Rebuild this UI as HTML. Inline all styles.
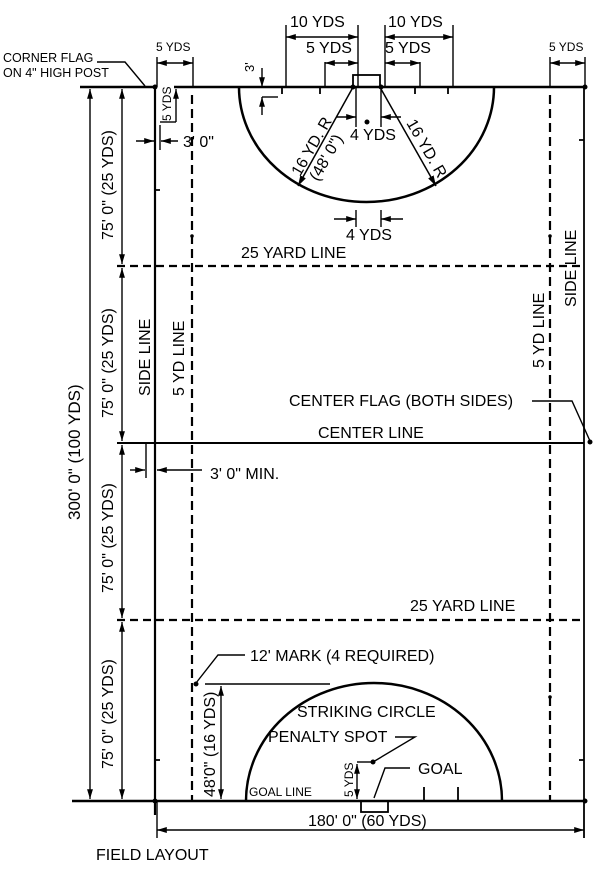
<!DOCTYPE html>
<html><head><style>html,body{margin:0;padding:0;background:#fff}svg{display:block}</style></head><body>
<svg width="600" height="870" viewBox="0 0 600 870" xmlns="http://www.w3.org/2000/svg" font-family="Liberation Sans, sans-serif" fill="#000">
<defs>
<marker id="a" viewBox="0 0 10 10" refX="10" refY="5" markerWidth="7" markerHeight="7" orient="auto-start-reverse"><path d="M0,2 L10,5 L0,8z"/></marker>
</defs>
<g stroke="#000" fill="none">
<line x1="80" y1="87" x2="155" y2="87" stroke-width="2.5"/>
<line x1="174" y1="87" x2="585" y2="87" stroke-width="2.5"/>
<line x1="72" y1="801" x2="585" y2="801" stroke-width="2.5"/>
<line x1="155" y1="87" x2="155" y2="815" stroke-width="2.2"/>
<line x1="584" y1="87" x2="584" y2="838" stroke-width="1.8"/>
<line x1="117" y1="443" x2="584" y2="443" stroke-width="2"/>
<line x1="117" y1="266" x2="584" y2="266" stroke-width="2.2" stroke-dasharray="8,5"/>
<line x1="117" y1="620" x2="584" y2="620" stroke-width="2.2" stroke-dasharray="8,5"/>
<line x1="192" y1="95" x2="192" y2="801" stroke-width="2.2" stroke-dasharray="9,5"/>
<line x1="550" y1="95" x2="550" y2="801" stroke-width="2.2" stroke-dasharray="9,5"/>
<path d="M239,87 A127.5,115 0 0 0 494,87" stroke-width="2.5"/>
<path d="M246,801 A128,118 0 0 1 502,801" stroke-width="2.5"/>
<rect x="353" y="75" width="27" height="12" stroke-width="1.8"/>
<rect x="361" y="801" width="27" height="11" stroke-width="1.8"/>
<path d="M282,87v7 M320,87v7 M415,87v7 M448,87v7 M424,787v14 M458,787v14 M155,190h5 M584,140h-5 M155,760h5 M584,760h-5" stroke-width="1.8"/>
<line x1="352" y1="89" x2="298" y2="186" stroke-width="1.5" marker-end="url(#a)"/>
<line x1="381" y1="89" x2="436" y2="186" stroke-width="1.5" marker-end="url(#a)"/>
<path d="M356,87v40 M381,87v40 M356,210v17 M381,210v17" stroke-width="1.4"/>
<line x1="336" y1="117" x2="356" y2="117" stroke-width="1.4" marker-end="url(#a)"/>
<line x1="401" y1="117" x2="381" y2="117" stroke-width="1.4" marker-end="url(#a)"/>
<line x1="334" y1="219" x2="356" y2="219" stroke-width="1.4" marker-end="url(#a)"/>
<line x1="403" y1="219" x2="381" y2="219" stroke-width="1.4" marker-end="url(#a)"/>
<path d="M286,87v-62 M358,87v-62 M385,87v-62 M453,87v-62 M325,87v-25 M420,87v-25 M157,87v-30 M193,87v-30 M550,87v-30 M585,87v-30" stroke-width="1.4"/>
<line x1="286" y1="37" x2="358" y2="37" stroke-width="1.4" marker-start="url(#a)" marker-end="url(#a)"/>
<line x1="385" y1="37" x2="453" y2="37" stroke-width="1.4" marker-start="url(#a)" marker-end="url(#a)"/>
<line x1="325" y1="63" x2="358" y2="63" stroke-width="1.4" marker-start="url(#a)" marker-end="url(#a)"/>
<line x1="385" y1="63" x2="420" y2="63" stroke-width="1.4" marker-start="url(#a)" marker-end="url(#a)"/>
<line x1="157" y1="63" x2="193" y2="63" stroke-width="1.4" marker-start="url(#a)" marker-end="url(#a)"/>
<line x1="550" y1="63" x2="585" y2="63" stroke-width="1.4" marker-start="url(#a)" marker-end="url(#a)"/>
<line x1="262" y1="68" x2="262" y2="87" stroke-width="1.4" marker-end="url(#a)"/>
<line x1="262" y1="115" x2="262" y2="97" stroke-width="1.4" marker-end="url(#a)"/>
<line x1="262" y1="97" x2="278" y2="97" stroke-width="1.4"/>
<line x1="176" y1="122" x2="176" y2="89" stroke-width="1.4" marker-end="url(#a)"/>
<line x1="160" y1="122" x2="176" y2="122" stroke-width="1.4"/>
<line x1="160" y1="125" x2="160" y2="150" stroke-width="1.4"/>
<line x1="136" y1="141" x2="154" y2="141" stroke-width="1.4" marker-end="url(#a)"/>
<line x1="178" y1="141" x2="161" y2="141" stroke-width="1.4" marker-end="url(#a)"/>
<path d="M97,62h28l20,24" stroke-width="1.4"/>
<line x1="90" y1="445" x2="90" y2="89" stroke-width="1.4" marker-end="url(#a)"/>
<line x1="90" y1="445" x2="90" y2="799" stroke-width="1.4" marker-end="url(#a)"/>
<line x1="122" y1="176" x2="122" y2="89" stroke-width="1.4" marker-end="url(#a)"/>
<line x1="122" y1="176" x2="122" y2="264" stroke-width="1.4" marker-end="url(#a)"/>
<line x1="122" y1="355" x2="122" y2="268" stroke-width="1.4" marker-end="url(#a)"/>
<line x1="122" y1="355" x2="122" y2="441" stroke-width="1.4" marker-end="url(#a)"/>
<line x1="122" y1="530" x2="122" y2="445" stroke-width="1.4" marker-end="url(#a)"/>
<line x1="122" y1="530" x2="122" y2="618" stroke-width="1.4" marker-end="url(#a)"/>
<line x1="122" y1="710" x2="122" y2="622" stroke-width="1.4" marker-end="url(#a)"/>
<line x1="122" y1="710" x2="122" y2="799" stroke-width="1.4" marker-end="url(#a)"/>
<line x1="146" y1="443" x2="146" y2="478" stroke-width="1.4"/>
<line x1="130" y1="470" x2="145" y2="470" stroke-width="1.4" marker-end="url(#a)"/>
<line x1="202" y1="470" x2="157" y2="470" stroke-width="1.4" marker-end="url(#a)"/>
<path d="M532,401h40l18,40" stroke-width="1.4"/>
<path d="M245,655h-27l-22,28" stroke-width="1.4"/>
<line x1="205" y1="684" x2="330" y2="684" stroke-width="1.4"/>
<line x1="221" y1="742" x2="221" y2="686" stroke-width="1.4" marker-end="url(#a)"/>
<line x1="221" y1="742" x2="221" y2="799" stroke-width="1.4" marker-end="url(#a)"/>
<line x1="357" y1="762" x2="372" y2="762" stroke-width="1.4"/>
<line x1="357" y1="780" x2="357" y2="764" stroke-width="1.4" marker-end="url(#a)"/>
<line x1="357" y1="780" x2="357" y2="799" stroke-width="1.4" marker-end="url(#a)"/>
<path d="M395,737h20l-42,25" stroke-width="1.4"/>
<path d="M410,768h-25l-11,30" stroke-width="1.4"/>
<line x1="157" y1="801" x2="157" y2="838" stroke-width="1.4"/>
<line x1="157" y1="830" x2="584" y2="830" stroke-width="1.4" marker-start="url(#a)" marker-end="url(#a)"/>
</g>
<g>
<circle cx="155" cy="87" r="2.5"/><circle cx="585" cy="87" r="2.5"/><circle cx="155" cy="801" r="2.5"/><circle cx="585" cy="801" r="2.5"/>
<circle cx="353" cy="87" r="2.5"/><circle cx="381" cy="87" r="2.5"/><circle cx="367" cy="122" r="2.5"/>
<circle cx="590" cy="442" r="2.5"/><circle cx="196" cy="684" r="2.5"/><circle cx="373" cy="762" r="2.5"/>
<circle cx="192" cy="236" r="1.8"/><circle cx="550" cy="236" r="1.8"/><circle cx="550" cy="697" r="1.8"/>
</g>
<g font-size="16">
<text x="290" y="27">10 YDS</text><text x="388" y="27">10 YDS</text>
<text x="306" y="53">5 YDS</text><text x="385" y="53">5 YDS</text>
<text x="156" y="51" font-size="12">5 YDS</text><text x="549" y="51" font-size="12">5 YDS</text>
<text x="3" y="62" font-size="12.5">CORNER FLAG</text><text x="3" y="77" font-size="12.5">ON 4" HIGH POST</text>
<text x="183" y="147">3' 0"</text>
<text x="350" y="140">4 YDS</text>
<text x="346" y="240">4 YDS</text>
<text x="241" y="258">25 YARD LINE</text>
<text x="318" y="438">CENTER LINE</text>
<text x="289" y="406">CENTER FLAG (BOTH SIDES)</text>
<text x="210" y="479">3' 0" MIN.</text>
<text x="410" y="611">25 YARD LINE</text>
<text x="250" y="661">12'  MARK (4 REQUIRED)</text>
<text x="297" y="717">STRIKING CIRCLE</text>
<text x="268" y="742">PENALTY SPOT</text>
<text x="418" y="774">GOAL</text>
<text x="249" y="796" font-size="12">GOAL LINE</text>
<text x="308" y="826">180' 0" (60 YDS)</text>
<text x="96" y="860">FIELD LAYOUT</text>
<text transform="translate(171,121) rotate(-90)" font-size="12">5 YDS</text>
<text transform="translate(254,72) rotate(-90)" font-size="13">3'</text>
<text transform="translate(80,520) rotate(-90)" font-size="17">300' 0" (100 YDS)</text>
<text transform="translate(113,240) rotate(-90)">75' 0" (25 YDS)</text>
<text transform="translate(113,418) rotate(-90)">75' 0" (25 YDS)</text>
<text transform="translate(113,593) rotate(-90)">75' 0" (25 YDS)</text>
<text transform="translate(113,769) rotate(-90)">75' 0" (25 YDS)</text>
<text transform="translate(150,396) rotate(-90)">SIDE LINE</text>
<text transform="translate(184,396) rotate(-90)">5 YD LINE</text>
<text transform="translate(544,368) rotate(-90)">5 YD LINE</text>
<text transform="translate(576,307) rotate(-90)">SIDE LINE</text>
<text transform="translate(215,797) rotate(-90)">48'0" (16 YDS)</text>
<text transform="translate(353,797) rotate(-90)" font-size="12">5 YDS</text>
<text transform="translate(300,177) rotate(-60)">16 YD. R</text>
<text transform="translate(318,182) rotate(-60)">(48' 0")</text>
<text transform="translate(406,123) rotate(60)">16 YD. R</text>
</g>
</svg>
</body></html>
